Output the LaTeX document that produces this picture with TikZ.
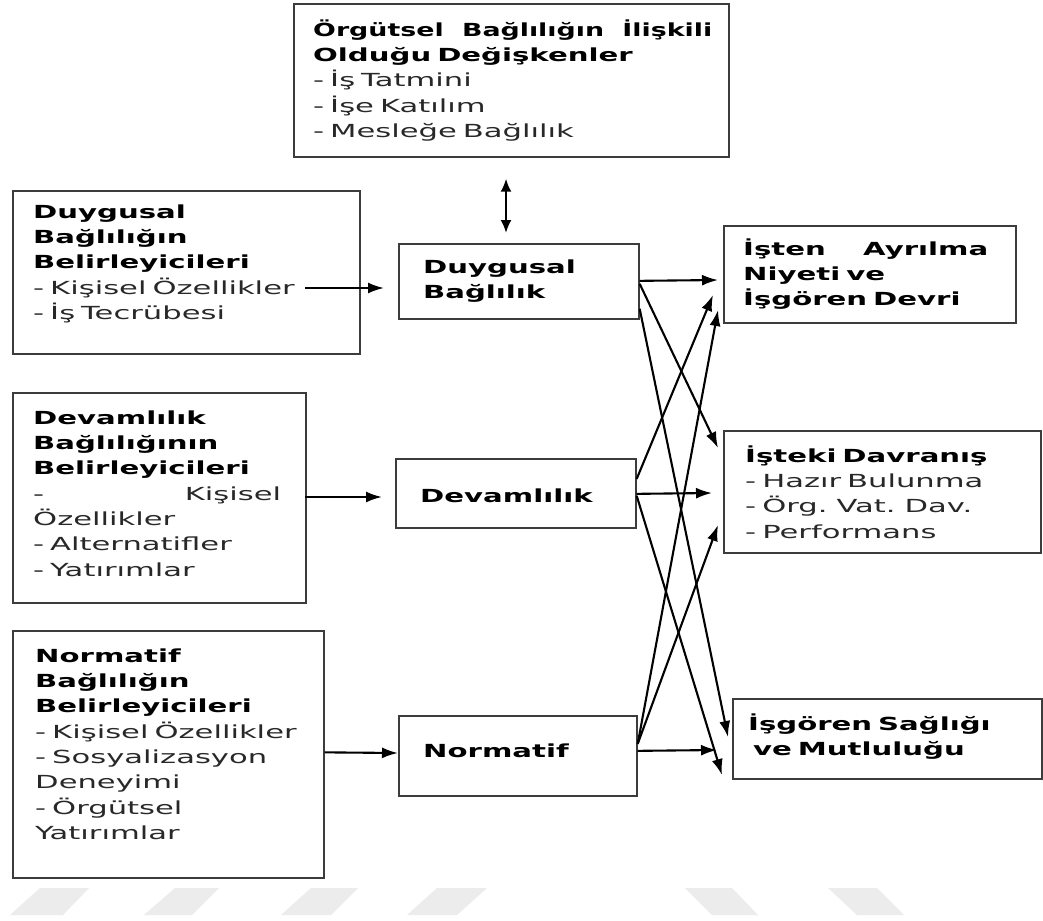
\documentclass[tikz,border=0pt]{standalone}
\usepackage{graphicx}
\usepackage{fontspec}
\setmainfont{DejaVu Sans}[FakeStretch=1.7, BoldFeatures={FakeStretch=1.62}]
\usetikzlibrary{arrows.meta}
\definecolor{boxgray}{HTML}{3C3C3C}
\definecolor{txtgray}{HTML}{282828}
\definecolor{wmgray}{HTML}{ECECEC}
\newcommand{\mystrut}{\rule{0pt}{18pt}}
\newcommand{\jline}[2]{\leavevmode\hbox to #1{#2}}
\newcommand{\nb}[1]{\scalebox{0.92}[1]{\textbf{\color{black}#1}}}
\tikzset{
  box/.style={draw=boxgray, line width=1.7pt, rectangle, inner sep=0pt, anchor=north west},
  txt/.style={anchor=north west, inner sep=0pt, align=left, text width=420pt,
              font=\fontsize{18}{25.3}\selectfont, text=txtgray},
  arr/.style={draw=black, line width=2.1pt, -{Latex[length=16pt,width=11pt]}},
  darr/.style={draw=black, line width=2.1pt, {Latex[length=13pt,width=11pt]}-{Latex[length=13pt,width=11pt]}},
  wm/.style={fill=wmgray, draw=none}
}
\begin{document}
\begin{tikzpicture}[x=1pt,y=-1pt]
\useasboundingbox (0,0) rectangle (1043,920);
\fill[white] (0,0) rectangle (1043,920);

% watermark shapes
\fill[wm] (10,915) -- (63,915) -- (89,888) -- (40,888) -- cycle;
\fill[wm] (144,915) -- (192,915) -- (219,888) -- (175,888) -- cycle;
\fill[wm] (281,915) -- (331,915) -- (358,888) -- (311,888) -- cycle;
\fill[wm] (407,915) -- (457,915) -- (487,888) -- (437,888) -- cycle;
\fill[wm] (712,915) -- (758,915) -- (732,888) -- (685,888) -- cycle;
\fill[wm] (857,915) -- (904,915) -- (877,888) -- (828,888) -- cycle;

% boxes
\node[box, minimum width=435pt, minimum height=153pt] (top) at (293,3) {};
\node[box, minimum width=347pt, minimum height=163pt] (left1) at (12,190) {};
\node[box, minimum width=293pt, minimum height=210pt] (left2) at (12,392) {};
\node[box, minimum width=311pt, minimum height=247pt] (left3) at (12,630) {};
\node[box, minimum width=240pt, minimum height=75pt] (mid1) at (398,243) {};
\node[box, minimum width=240pt, minimum height=69pt] (mid2) at (395,458) {};
\node[box, minimum width=238pt, minimum height=80pt] (mid3) at (398,715) {};
\node[box, minimum width=292pt, minimum height=97pt] (right1) at (723,225) {};
\node[box, minimum width=317pt, minimum height=122pt] (right2) at (723,430) {};
\node[box, minimum width=309pt, minimum height=80pt] (right3) at (732,698) {};

% texts
\node[txt] (ttop) at (313,18) {\mystrut\jline{399pt}{\nb{Örgütsel}\hfill\nb{Bağlılığın}\hfill\nb{İlişkili}}\\
  \textbf{\color{black}Olduğu Değişkenler}\\- İş Tatmini\\- İşe Katılım\\- Mesleğe Bağlılık};
\node[txt] (tleft1) at (33,200) {\mystrut\textbf{\color{black}Duygusal}\\\textbf{\color{black}Bağlılığın}\\\textbf{\color{black}Belirleyicileri}\\- Kişisel Özellikler\\- İş Tecrübesi};
\node[txt] (tleft2) at (33,406) {\mystrut\textbf{\color{black}Devamlılık}\\\textbf{\color{black}Bağlılığının}\\\textbf{\color{black}Belirleyicileri}\\\jline{248pt}{-\hfill Kişisel}\\Özellikler\\- Alternatifler\\- Yatırımlar};
\node[txt] (tleft3) at (35,644) {\mystrut\textbf{\color{black}Normatif}\\\textbf{\color{black}Bağlılığın}\\\textbf{\color{black}Belirleyicileri}\\- Kişisel Özellikler\\- Sosyalizasyon\\Deneyimi\\- Örgütsel\\Yatırımlar};
\node[txt, text=black] (tmid1) at (423,255) {\mystrut\textbf{Duygusal}\\\textbf{Bağlılık}};
\node[txt, text=black] (tmid2) at (420,484) {\mystrut\textbf{Devamlılık}};
\node[txt, text=black] (tmid3) at (423,739) {\mystrut\textbf{Normatif}};
\node[txt, text=black] (tright1) at (743,237) {\mystrut\jline{245pt}{\textbf{İşten}\hfill\textbf{Ayrılma}}\\\textbf{Niyeti ve}\\\textbf{İşgören Devri}};
\node[txt] (tright2) at (745,444) {\mystrut\textbf{\color{black}İşteki Davranış}\\- Hazır Bulunma\\- Örg. Vat. Dav.\\- Performans};
\node[txt, text=black] (tright3) at (748,712) {\mystrut\textbf{İşgören Sağlığı}\\\hspace*{5pt}\textbf{ve Mutluluğu}};

% arrow end / start coordinates
\coordinate (s1) at (305,288);
\coordinate (s2) at (305,497);
\coordinate (e11) at (718,280);
\coordinate (e12) at (718,448);
\coordinate (e13) at (728,737);
\coordinate (e21) at (713,295);
\coordinate (e22) at (712,493);
\coordinate (e23) at (722,775);
\coordinate (e31) at (718,310);
\coordinate (e32) at (718,525);
\coordinate (e33) at (717,750);

% connectors
\draw[darr] ([yshift=-21pt]top.south -| 506,0) -- ([yshift=10pt]mid1.north -| 506,0);
\draw[arr, shorten >=14pt] (s1) -- (mid1.west |- s1);
\draw[arr, shorten >=13pt] (s2) -- (mid2.west |- s2);
\draw[arr] ([yshift=2pt]left3.east) -- (mid3.west |- 0,753);

\draw[arr] ([yshift=0.5pt]mid1.east) -- (e11);
\draw[arr] ([yshift=-2.5pt]mid1.east) -- (e12);
\draw[arr] ([yshift=-27.5pt]mid1.east) -- (e13);

\draw[arr] ([yshift=14.5pt]mid2.east) -- (e21);
\draw[arr] ([yshift=-0.5pt]mid2.east) -- (e22);
\draw[arr] ([yshift=-2.5pt]mid2.east) -- (e23);

\draw[arr] ([yshift=12pt]mid3.east) -- (e31);
\draw[arr] ([yshift=12pt]mid3.east) -- (e32);
\draw[arr] ([yshift=5pt]mid3.east) -- (e33);
\end{tikzpicture}
\end{document}
